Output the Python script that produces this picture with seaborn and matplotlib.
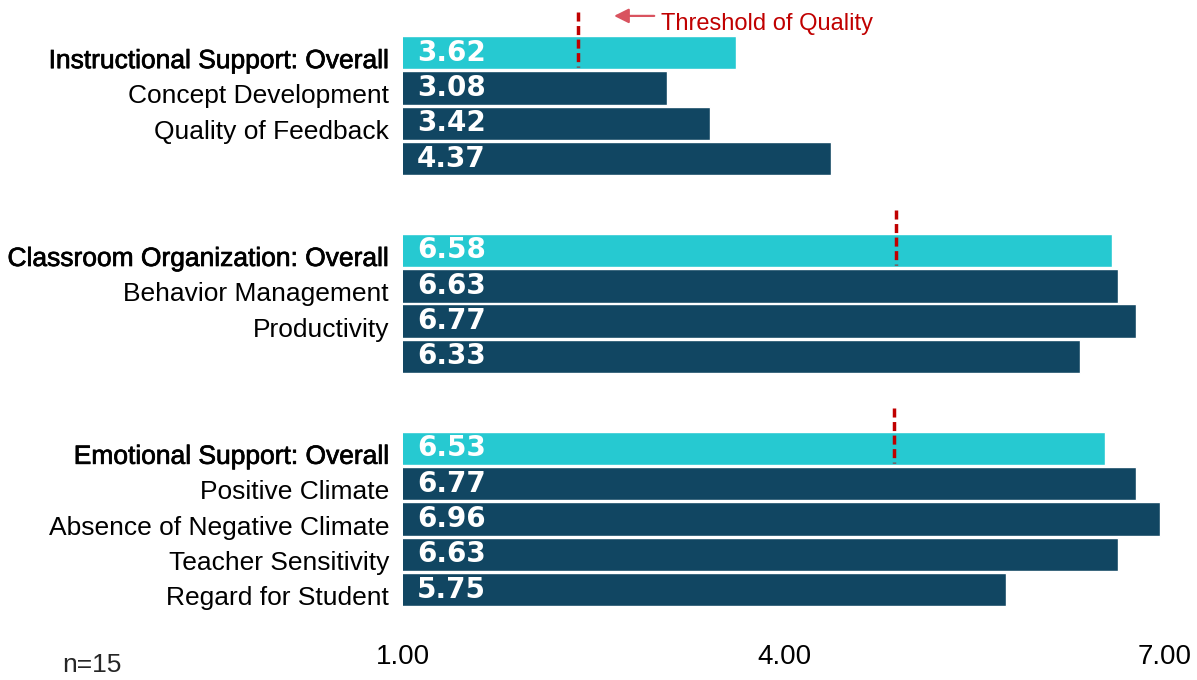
import numpy as np
import pandas as pd
import matplotlib
matplotlib.use("Agg")
import matplotlib.pyplot as plt
import matplotlib.patheffects as pe
import matplotlib.transforms as mtransforms
import seaborn as sns

# ---------------- data ----------------
instr_labels = ["Instructional Support: Overall", "Concept Development", "Quality of Feedback", ""]
instr_values = [3.62, 3.08, 3.42, 4.37]
class_labels = ["Classroom Organization: Overall", "Behavior Management", "Productivity", ""]
class_values = [6.58, 6.63, 6.77, 6.33]
emo_labels = ["Emotional Support: Overall", "Positive Climate", "Absence of Negative Climate",
              "Teacher Sensitivity", "Regard for Student"]
emo_values = [6.53, 6.77, 6.96, 6.63, 5.75]
thresholds = [2.38, 4.88, 4.87]
x_ticks = [1, 4, 7]
x_tick_labels = ["1.00", "4.00", "7.00"]
sample_note = "n=15"
threshold_text = "Threshold of Quality"

# ---------------- layout ----------------
LIGHT = "#26C9D1"
DARK = "#114662"
RED = "#C00000"
GROUP_GAP = 2.6

groups = [(instr_labels, instr_values), (class_labels, class_values), (emo_labels, emo_values)]
rows = []
pos = 0.0
group_starts = []
for gi, (labs, vals) in enumerate(groups):
    group_starts.append(pos)
    for i, (l, v) in enumerate(zip(labs, vals)):
        rows.append(dict(label=l, value=v, pos=pos + i, kind="overall" if i == 0 else "sub"))
    pos = pos + (len(labs) - 1) + GROUP_GAP
df = pd.DataFrame(rows)

sns.set_theme(style="white")
plt.rcParams["font.family"] = ["Liberation Sans", "DejaVu Sans"]

fig = plt.figure(figsize=(11.97, 6.8), dpi=100)
ax = fig.add_axes([403 / 1197, 1 - 625 / 680, (1165 - 403) / 1197, 625 / 680])

sns.barplot(data=df, x="value", y="pos", hue="kind", palette={"overall": LIGHT, "sub": DARK},
            orient="h", native_scale=True, dodge=False, width=0.95, legend=False,
            edgecolor="white", linewidth=1.0, saturation=1, ax=ax)

ax.set_xlim(1, 7)
last = df["pos"].max()
ax.set_ylim(last + 1.0, -1.49)
ax.set_xticks(x_ticks)
ax.set_xticklabels(x_tick_labels, fontsize=20, color="black")
ax.tick_params(axis="x", length=0, pad=14)
ax.set_yticks(df["pos"])
ax.set_yticklabels(df["label"], fontsize=19, color="black")
ax.tick_params(axis="y", length=0, pad=10)
ax.set_xlabel("")
ax.set_ylabel("")
for s in ax.spines.values():
    s.set_visible(False)
ax.grid(False)

shift = mtransforms.ScaledTranslation(0, -6 / 100, fig.dpi_scale_trans)
for tl, kind in zip(ax.get_yticklabels(), df["kind"]):
    tl.set_transform(tl.get_transform() + shift)
    if kind == "overall":
        tl.set_path_effects([pe.withStroke(linewidth=0.5, foreground="black")])

# value labels inside bars
for _, r in df.iterrows():
    ax.text(1.11, r["pos"], f"{r['value']:.2f}", color="white", fontweight="bold",
            fontsize=20, va="center", ha="left", family="DejaVu Sans")

# thresholds
for start, t in zip(group_starts, thresholds):
    ax.plot([t, t], [start - 1.15, start + 0.42], color=RED, lw=2.5, dashes=(2.6, 1.3),
            solid_capstyle="butt")

# threshold annotation
ax.annotate("", xy=(2.64, -1.04), xytext=(3.0, -1.04),
            arrowprops=dict(arrowstyle="-|>", color="#D9535F", lw=1.6, mutation_scale=22))
ax.text(3.03, -0.80, threshold_text, color=RED, fontsize=17, va="center", ha="left")

fig.text(62 / 1197, 1 - 665 / 680, sample_note, fontsize=19, va="center", ha="left")

fig.savefig("out.png", dpi=100)
